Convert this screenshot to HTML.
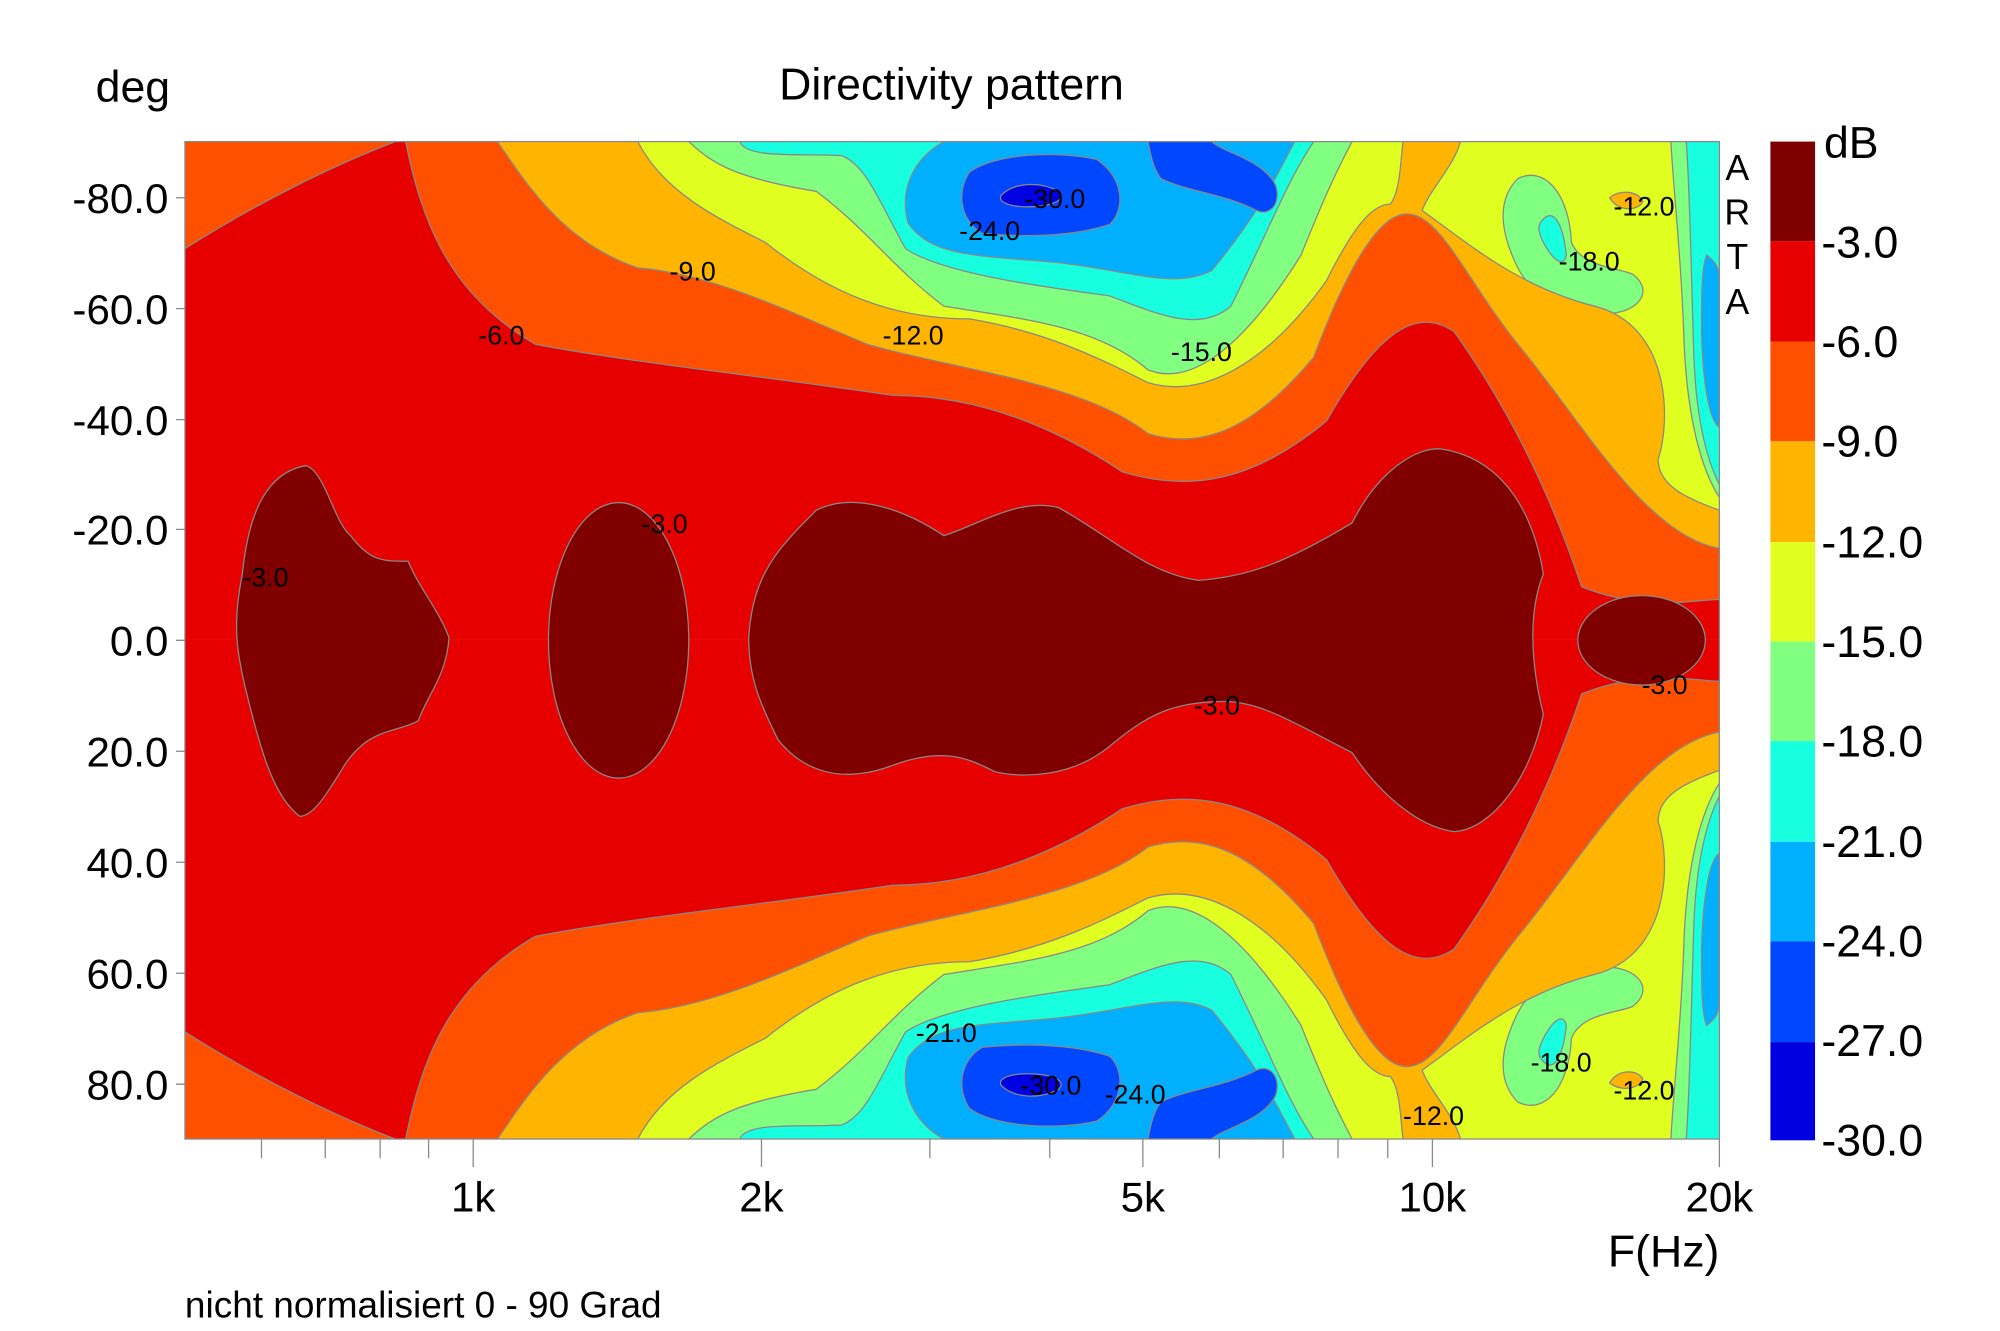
<!DOCTYPE html>
<html><head><meta charset="utf-8"><style>html,body{margin:0;padding:0;background:#fff}svg{display:block}text{font-family:"Liberation Sans",sans-serif}</style></head><body>
<svg width="2000" height="1331" viewBox="0 0 1568 1043.5" preserveAspectRatio="none" xmlns="http://www.w3.org/2000/svg">
<defs>
<clipPath id="ct"><rect x="145" y="111" width="1203" height="391.5"/></clipPath>
<clipPath id="cb"><rect x="145" y="501.5" width="1203" height="391.5"/></clipPath>
<g id="half" stroke="#888" stroke-width="1">
<rect x="145" y="100" width="1210" height="420" fill="#e0ff20" stroke="none"/>
<path fill="#80ff80" d="M540,100 L540,111 C560,130 580,140 640,150 C680,180 700,210 740,240 C800,250 860,255 900,290 C930,302 970,280 1020,200 C1040,150 1050,130 1060,111 L1060,100Z"/>
<path fill="#80ff80" d="M1310,100 L1310,111 C1312,150 1318,200 1320,260 C1322,330 1335,370 1348,390 L1360,390 L1360,100Z"/>
<path fill="#80ff80" d="M1190,140 C1210,130 1230,150 1232,190 C1240,210 1270,210 1280,215 C1300,230 1280,250 1250,245 C1220,240 1200,230 1190,210 C1180,190 1170,160 1190,140Z"/>
<path fill="#18ffe0" d="M1212,170 C1220,165 1226,180 1228,200 C1226,210 1218,205 1210,190 C1205,180 1205,175 1212,170Z"/>
<path fill="#ffb400" d="M1262,155 C1270,148 1285,150 1288,158 C1284,166 1268,166 1262,155Z"/>
<path fill="#18ffe0" d="M1322,100 L1322,111 C1325,150 1326,220 1328,280 C1330,330 1338,360 1348,380 L1360,380 L1360,100Z"/>
<path fill="#00b0ff" d="M1338,200 C1345,205 1348,210 1348,220 L1348,335 C1340,330 1335,300 1334,260 C1334,230 1334,210 1338,200Z"/>
<path fill="#18ffe0" d="M580,100 L580,111 C585,125 630,120 660,122 C680,130 690,160 710,195 C740,215 820,225 870,232 C905,245 940,262 965,240 C995,180 1010,140 1030,111 L1030,100Z"/>
<path fill="#00b0ff" d="M740,100 L740,111 C715,125 705,150 712,175 C730,200 760,200 820,205 C880,210 920,228 950,212 C985,170 1000,140 1015,111 L1015,100Z"/>
<path fill="#0048ff" d="M760,135 C780,120 830,118 860,125 C882,140 882,165 870,176 C840,186 800,186 770,183 C752,172 750,150 760,135Z"/>
<path fill="#0048ff" d="M900,100 L900,111 C902,120 903,130 910,140 C930,150 960,152 985,165 C995,170 1005,160 1000,145 C990,125 960,120 950,111 L950,100Z"/>
<path fill="#0000e0" d="M785,153 C795,143 815,142 830,150 C838,158 820,163 800,162 C790,161 782,158 785,153Z"/>
<path fill="#ffb400" d="M145,100 L500,100 L500,111 C520,150 560,170 600,190 C650,230 700,250 760,250 C820,260 860,280 900,300 C940,312 990,290 1040,220 C1060,180 1075,160 1090,160 C1098,150 1098,125 1100,111 L1100,100 L1145,100 L1145,111 C1140,130 1120,150 1115,165 C1150,190 1190,225 1250,240 C1310,255 1310,330 1300,360 C1300,380 1320,390 1348,400 L1360,400 L1360,520 L145,520Z"/>
<path fill="#ff5000" d="M140,100 L390,100 L390,111 C410,140 440,190 500,210 C560,215 620,245 680,270 C750,290 850,300 900,340 C940,352 980,340 1030,280 C1060,200 1085,165 1105,168 C1130,170 1150,220 1190,270 C1240,330 1290,420 1348,430 L1360,430 L1360,520 L140,520Z"/>
<path fill="#e60000" d="M140,195 L145,195 C200,160 260,130 310,111 L310,100 L318,100 L318,111 C330,170 350,230 420,270 C500,285 600,295 700,310 C760,310 820,330 880,370 C930,385 980,380 1040,330 C1080,260 1110,240 1140,260 C1190,330 1220,400 1240,460 C1290,480 1330,470 1348,470 L1360,470 L1360,520 L140,520Z"/>
</g></defs>
<rect width="1568" height="1043.5" fill="#fff"/>
<g clip-path="url(#ct)"><use href="#half"/></g>
<g clip-path="url(#cb)"><use href="#half" transform="translate(0,1004) scale(1,-1)"/></g>
<g fill="#800000" stroke="#888" stroke-width="1">
<path d="M240,365 C255,370 262,410 275,420 C290,440 300,440 320,440 C328,460 345,480 352,500 C350,530 335,545 328,565 C310,575 290,570 270,600 C255,625 245,640 235,640 C215,625 205,590 195,550 C185,510 182,490 190,450 C195,400 210,370 240,365Z"/>
<ellipse cx="485" cy="502" rx="55" ry="108"/>
<path d="M587,500 C590,450 610,430 640,400 C670,385 710,400 740,420 C770,410 800,390 830,398 C870,420 900,450 940,455 C980,452 1010,440 1060,410 C1080,370 1110,350 1130,352 C1170,358 1200,390 1210,450 C1198,480 1200,520 1210,560 C1200,610 1170,650 1140,652 C1110,648 1080,620 1060,590 C1020,570 990,550 960,550 C920,550 900,560 870,585 C840,610 800,610 780,605 C760,595 740,585 700,600 C660,615 630,605 610,580 C595,550 587,530 587,500Z"/>
<ellipse cx="1287" cy="502" rx="50" ry="35"/>
</g>
<g font-size="21" fill="#000">
<text x="525" y="220">-9.0</text><text x="375" y="270">-6.0</text><text x="692" y="270">-12.0</text>
<text x="918" y="283">-15.0</text><text x="752" y="188">-24.0</text><text x="803" y="163">-30.0</text>
<text x="1265" y="169">-12.0</text><text x="1222" y="212">-18.0</text>
<text x="190" y="460">-3.0</text><text x="503" y="418">-3.0</text><text x="936" y="560">-3.0</text><text x="1287" y="544">-3.0</text>
<text x="718" y="817">-21.0</text><text x="800" y="858">-30.0</text><text x="866" y="865">-24.0</text>
<text x="1200" y="840">-18.0</text><text x="1265" y="862">-12.0</text><text x="1100" y="882">-12.0</text>
</g>
<rect x="145" y="111" width="1203" height="782" fill="none" stroke="#888" stroke-width="1"/>
<g stroke="#888" stroke-width="1">
<path d="M205,893v15M255,893v15M298,893v15M336,893v15M371,893v22M597,893v22M729,893v15M823,893v15M896,893v22M956,893v15M1006,893v15M1049,893v15M1088,893v15M1123,893v22M1348,893v22"/>
<path d="M138,155h7M138,242h7M138,329h7M138,415h7M138,502h7M138,589h7M138,676h7M138,763h7M138,850h7"/>
</g>
<g font-size="33" fill="#000" text-anchor="end">
<text x="132" y="167">-80.0</text><text x="132" y="254">-60.0</text><text x="132" y="341">-40.0</text><text x="132" y="427">-20.0</text><text x="132" y="514">0.0</text><text x="132" y="601">20.0</text><text x="132" y="688">40.0</text><text x="132" y="775">60.0</text><text x="132" y="862">80.0</text>
</g>
<g font-size="33" fill="#000" text-anchor="middle">
<text x="371" y="950">1k</text><text x="597" y="950">2k</text><text x="896" y="950">5k</text><text x="1123" y="950">10k</text><text x="1348" y="950">20k</text>
</g>
<text x="1348" y="993" font-size="35" text-anchor="end">F(Hz)</text>
<text x="145" y="1033" font-size="29">nicht normalisiert 0 - 90 Grad</text>
<text x="75" y="80" font-size="35">deg</text>
<text x="746" y="78" font-size="35" text-anchor="middle">Directivity pattern</text>
<g font-size="28" text-anchor="middle"><text x="1362" y="141">A</text><text x="1362" y="176">R</text><text x="1362" y="211">T</text><text x="1362" y="246">A</text></g>
<g stroke="none">
<rect x="1388" y="111" width="35" height="78" fill="#800000"/>
<rect x="1388" y="189" width="35" height="79" fill="#e60000"/>
<rect x="1388" y="268" width="35" height="78" fill="#ff5000"/>
<rect x="1388" y="346" width="35" height="79" fill="#ffb400"/>
<rect x="1388" y="425" width="35" height="78" fill="#e0ff20"/>
<rect x="1388" y="503" width="35" height="78" fill="#80ff80"/>
<rect x="1388" y="581" width="35" height="79" fill="#18ffe0"/>
<rect x="1388" y="660" width="35" height="78" fill="#00b0ff"/>
<rect x="1388" y="738" width="35" height="79" fill="#0048ff"/>
<rect x="1388" y="817" width="35" height="77" fill="#0000e0"/>
</g>
<g font-size="35" fill="#000">
<text x="1430" y="124">dB</text><text x="1428" y="202">-3.0</text><text x="1428" y="280">-6.0</text><text x="1428" y="358">-9.0</text><text x="1428" y="437">-12.0</text><text x="1428" y="515">-15.0</text><text x="1428" y="593">-18.0</text><text x="1428" y="672">-21.0</text><text x="1428" y="750">-24.0</text><text x="1428" y="828">-27.0</text><text x="1428" y="906">-30.0</text>
</g>
</svg>
</body></html>
